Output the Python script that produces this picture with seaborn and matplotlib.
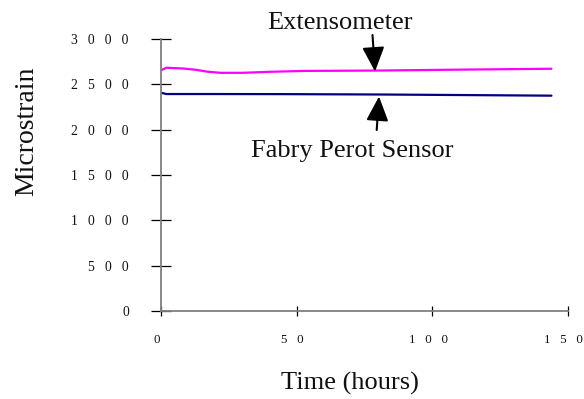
import matplotlib
matplotlib.use("Agg")
import matplotlib.pyplot as plt
import matplotlib.transforms as mtransforms
import seaborn as sns
import pandas as pd

# ---- data ----
ext_hours = [0, 2, 8, 13, 17, 22, 30, 40, 53, 80, 110, 144]
ext_strain = [2655, 2683, 2675, 2660, 2640, 2627, 2627, 2638, 2648, 2652, 2662, 2672]
fp_hours = [0, 2, 20, 44, 80, 110, 144]
fp_strain = [2407, 2393, 2393, 2392, 2388, 2382, 2375]

x_ticks = [0, 50, 100, 150]
y_ticks = [0, 500, 1000, 1500, 2000, 2500, 3000]
x_tick_labels = ["0", "5   0", "1   0   0", "1   5   0"]
y_tick_labels = ["0", "5   0   0", "1   0   0   0", "1   5   0   0",
                 "2   0   0   0", "2   5   0   0", "3   0   0   0"]

series_names = ["Extensometer", "Fabry Perot Sensor"]
series_colors = ["#FF00FF", "#000080"]

df = pd.concat([
    pd.DataFrame({"hours": ext_hours, "strain": ext_strain, "series": series_names[0]}),
    pd.DataFrame({"hours": fp_hours, "strain": fp_strain, "series": series_names[1]}),
])

sns.set_theme(style="white")
plt.rcParams["font.family"] = ["Liberation Serif", "DejaVu Serif"]

W, H = 584, 399
fig = plt.figure(figsize=(W / 100, H / 100), dpi=100)
ax = fig.add_axes([161 / W, 1 - 311 / H, (567.7 - 161) / W, (311 - 39) / H])

sns.lineplot(data=df, x="hours", y="strain", hue="series",
             palette=dict(zip(series_names, series_colors)),
             linewidth=1.6, legend=False, ax=ax, estimator=None, sort=False)

ax.set_xlim(0, 150)
ax.set_ylim(0, 3000)
ax.set_xticks(x_ticks)
ax.set_xticklabels(x_tick_labels, fontsize=9.3)
ax.set_yticks(y_ticks)
ax.set_yticklabels(y_tick_labels, fontsize=9.8)
ax.set_xlabel("")
ax.set_ylabel("")

for s in ["top", "right"]:
    ax.spines[s].set_visible(False)
for s in ["left", "bottom"]:
    ax.spines[s].set_color("#7f7f7f")
    ax.spines[s].set_linewidth(1.3)

ax.tick_params(axis="y", left=True, direction="inout", length=14.4, width=0.9,
               color="black", pad=16, labelcolor="#111111")
ax.tick_params(axis="x", bottom=True, direction="inout", length=6.5, width=0.9,
               color="black", pad=13, labelcolor="#111111")

shift = mtransforms.ScaledTranslation(-4 / 100, 0, fig.dpi_scale_trans)
for lab in ax.get_xticklabels():
    lab.set_transform(lab.get_transform() + shift)

# axis titles
fig.text(27 / W, 1 - 131 / H, "Microstrain", rotation=90, ha="center", va="center",
         fontsize=20, color="#111111")
fig.text(350 / W, 1 - 383 / H, "Time (hours)", ha="center", va="center",
         fontsize=19, color="#111111")

# annotations
fig.text(340 / W, 1 - 23 / H, series_names[0], ha="center", va="center",
         fontsize=19, color="#111111")
fig.text(352 / W, 1 - 151 / H, series_names[1], ha="center", va="center",
         fontsize=19, color="#111111")

arrow_kw = dict(arrowstyle="-|>,head_length=1.5,head_width=0.68",
                color="black", linewidth=1.5, shrinkA=0, shrinkB=0,
                mutation_scale=10)
ax.annotate("", xy=(375, H - 71.5), xycoords="figure pixels",
            xytext=(372.5, H - 35), textcoords="figure pixels",
            arrowprops=arrow_kw, annotation_clip=False)
ax.annotate("", xy=(379, H - 96.5), xycoords="figure pixels",
            xytext=(376.7, H - 130), textcoords="figure pixels",
            arrowprops=arrow_kw, annotation_clip=False)

fig.savefig("out.png", dpi=100)
